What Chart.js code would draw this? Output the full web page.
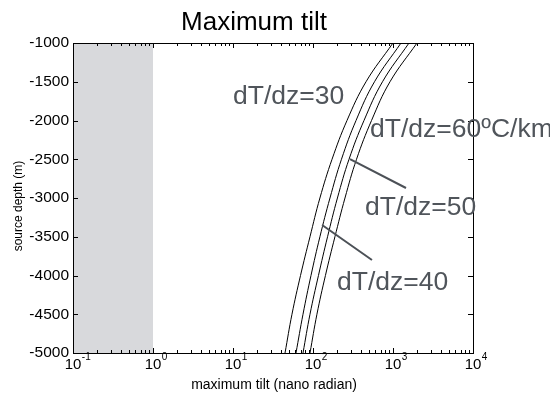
<!DOCTYPE html>
<html>
<head>
<meta charset="utf-8">
<script src="https://cdn.jsdelivr.net/npm/chart.js@4/dist/chart.umd.min.js"></script>
<style>
  html, body { margin: 0; padding: 0; background: #fff; }
  #wrap { width: 550px; height: 398px; }
</style>
</head>
<body>
<div id="wrap"><canvas id="tilt"></canvas></div>
<script>
// Maximum tilt vs source depth, four thermal gradients

const depths = [-1000, -1500, -2000, -2500, -3000, -3500, -4000, -4500, -5000];
const tilt30 = [1000, 460, 266, 173, 122, 91.7, 69.8, 54.6, 44.7];
const tilt40 = [1259, 587, 345, 227, 163, 122, 94.4, 75, 61.3];
const tilt50 = [1585, 739, 434, 282, 202, 152, 117, 91.7, 75];
const tilt60 = [1995, 917, 539, 350, 251, 188, 143, 112, 91.7];

const xExponents = [-1, 0, 1, 2, 3, 4];
const yTicks = [-1000, -1500, -2000, -2500, -3000, -3500, -4000, -4500, -5000];

// shaded band (tilt below 1 nrad)
const bandRange = [0.1, 1];

// curve labels and leader lines, in data units
const labelText = ['dT/dz=30', 'dT/dz=60ºC/km', 'dT/dz=50', 'dT/dz=40'];
const labelX = [10, 516, 447, 200];
const labelY = [-1697, -2123, -3129, -4097];
const leaders = [
    [290, -2497, 1454, -2871],
    [130, -3348, 546, -3800]
];

const FONT = "'Liberation Sans', Arial, sans-serif";

function toPoints(xs) {
    return xs.map((v, i) => ({ x: v, y: depths[i] }));
}

const matlabAxes = {
    id: 'matlabAxes',
    beforeDatasetsDraw(chart) {
        const { ctx, chartArea: a, scales: { x } } = chart;
        const x0 = x.getPixelForValue(bandRange[0]);
        const x1 = x.getPixelForValue(bandRange[1]);
        ctx.save();
        ctx.fillStyle = '#d8d9dc';
        ctx.fillRect(x0, a.top, x1 - x0, a.bottom - a.top);
        ctx.restore();
    },
    afterDatasetsDraw(chart) {
        const { ctx, chartArea: a, scales: { x, y } } = chart;
        ctx.save();

        // box
        ctx.strokeStyle = '#000';
        ctx.lineWidth = 1;
        ctx.strokeRect(Math.round(a.left) + 0.5, Math.round(a.top) + 0.5,
            Math.round(a.right - a.left), Math.round(a.bottom - a.top));

        // x ticks (major + minor), top and bottom
        ctx.beginPath();
        xExponents.forEach((e, i) => {
            const base = Math.pow(10, e);
            const px = Math.round(x.getPixelForValue(base)) + 0.5;
            ctx.moveTo(px, a.bottom); ctx.lineTo(px, a.bottom - 5);
            ctx.moveTo(px, a.top); ctx.lineTo(px, a.top + 5);
            if (i < xExponents.length - 1) {
                for (let m = 2; m < 10; m++) {
                    const mx = Math.round(x.getPixelForValue(base * m)) + 0.5;
                    ctx.moveTo(mx, a.bottom); ctx.lineTo(mx, a.bottom - 3);
                    ctx.moveTo(mx, a.top); ctx.lineTo(mx, a.top + 3);
                }
            }
        });
        // y ticks, left and right
        yTicks.forEach(v => {
            const py = Math.round(y.getPixelForValue(v)) + 0.5;
            ctx.moveTo(a.left, py); ctx.lineTo(a.left + 5, py);
            ctx.moveTo(a.right, py); ctx.lineTo(a.right - 5, py);
        });
        ctx.stroke();

        // x tick labels 10^e
        ctx.fillStyle = '#000';
        ctx.textBaseline = 'alphabetic';
        xExponents.forEach(e => {
            const px = x.getPixelForValue(Math.pow(10, e));
            ctx.font = '15px ' + FONT;
            const w = ctx.measureText('10').width;
            ctx.textAlign = 'center';
            ctx.fillText('10', px, 369);
            ctx.font = '10px ' + FONT;
            ctx.textAlign = 'left';
            ctx.fillText(String(e), px + w / 2 + 0.5, 360);
        });

        // y tick labels
        ctx.font = '15.5px ' + FONT;
        ctx.textAlign = 'right';
        ctx.textBaseline = 'middle';
        yTicks.forEach(v => {
            ctx.fillText(String(v), a.left - 4, y.getPixelForValue(v));
        });

        // axis titles
        ctx.font = '14px ' + FONT;
        ctx.textAlign = 'center';
        ctx.textBaseline = 'middle';
        ctx.fillText('maximum tilt (nano radian)', 274, 385);
        ctx.save();
        ctx.translate(19, 206);
        ctx.rotate(-Math.PI / 2);
        ctx.font = '12px ' + FONT;
        ctx.fillText('source depth (m)', 0, 0);
        ctx.restore();

        // title
        ctx.font = '26px ' + FONT;
        ctx.fillText('Maximum tilt', 254, 23);

        // leader lines
        ctx.strokeStyle = '#4c5157';
        ctx.lineWidth = 2;
        ctx.beginPath();
        leaders.forEach(l => {
            ctx.moveTo(x.getPixelForValue(l[0]), y.getPixelForValue(l[1]));
            ctx.lineTo(x.getPixelForValue(l[2]), y.getPixelForValue(l[3]));
        });
        ctx.stroke();

        // curve labels
        ctx.fillStyle = '#50555b';
        ctx.font = '26.5px ' + FONT;
        ctx.textAlign = 'left';
        labelText.forEach((t, i) => {
            ctx.fillText(t, x.getPixelForValue(labelX[i]), y.getPixelForValue(labelY[i]));
        });

        ctx.restore();
    }
};

const curve = (label, xs) => ({
    label: label,
    data: toPoints(xs),
    showLine: true,
    borderColor: '#000',
    borderWidth: 1,
    pointRadius: 0,
    tension: 0.4,
    fill: false
});

new Chart(document.getElementById('tilt'), {
    type: 'scatter',
    data: {
        datasets: [
            curve('dT/dz=30', tilt30),
            curve('dT/dz=40', tilt40),
            curve('dT/dz=50', tilt50),
            curve('dT/dz=60', tilt60)
        ]
    },
    options: {
        responsive: true,
        maintainAspectRatio: false,
        animation: false,
        layout: { padding: { left: 73, right: 77, top: 43, bottom: 45 } },
        plugins: {
            legend: { display: false },
            tooltip: { enabled: false },
            title: { display: false }
        },
        scales: {
            x: { type: 'logarithmic', min: 0.1, max: 10000, display: false },
            y: { type: 'linear', min: -5000, max: -1000, display: false }
        }
    },
    plugins: [matlabAxes]
});
</script>
</body>
</html>
